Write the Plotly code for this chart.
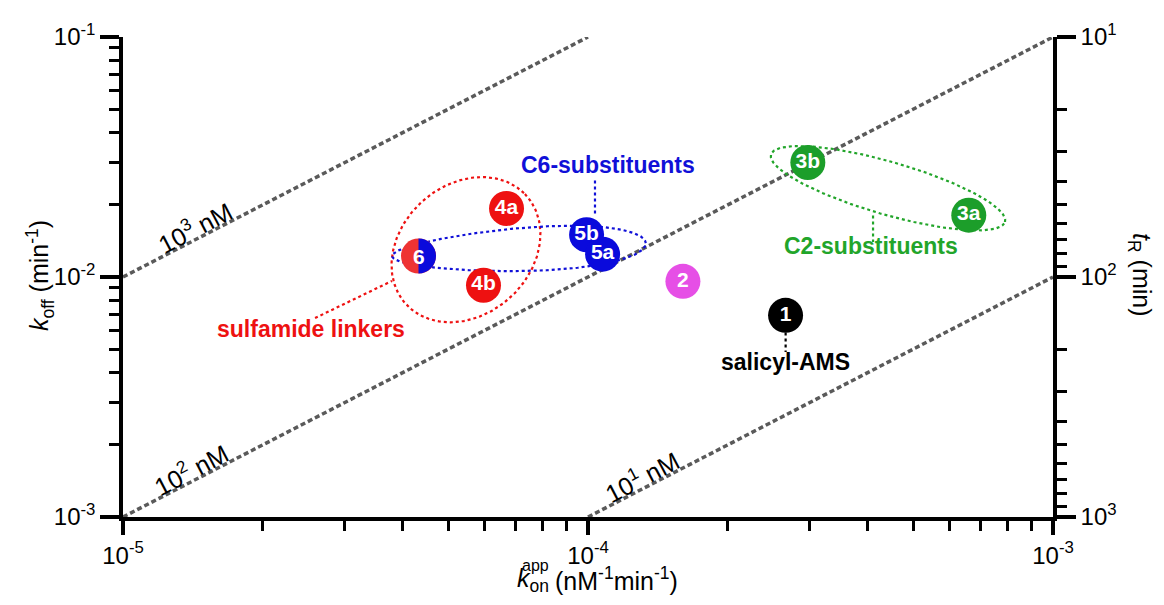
import math
import plotly.graph_objects as go

# ---------------- data ----------------
compounds = ["1", "2", "3a", "3b", "4a", "4b", "5b", "5a", "6"]
kon_app = [2.66e-4, 1.60e-4, 6.59e-4, 2.97e-4, 6.68e-5, 5.96e-5, 9.93e-5, 1.075e-4, 4.32e-5]   # nM^-1 min^-1
koff = [6.92e-3, 9.59e-3, 1.81e-2, 3.00e-2, 1.93e-2, 9.24e-3, 1.50e-2, 1.245e-2, 1.223e-2]      # min^-1
point_colors = ["#000000", "#E64FE6", "#1C9E2A", "#1C9E2A", "#EE1111", "#EE1111",
                "#0A0ADC", "#0A0ADC", "#EE3333"]
split_color_6 = "#0A0ADC"

kd_lines_nM = [1e3, 1e2, 1e1]
kd_labels = ["10<sup>3</sup> nM", "10<sup>2</sup> nM", "10<sup>1</sup> nM"]
kd_label_logx = [-4.835, -4.843, -3.873]

x_tickvals = [1e-5, 1e-4, 1e-3]
x_ticktext = ["10<sup>-5</sup>", "10<sup>-4</sup>", "10<sup>-3</sup>"]
y_tickvals = [1e-3, 1e-2, 1e-1]
y_ticktext = ["10<sup>-3</sup>", "10<sup>-2</sup>", "10<sup>-1</sup>"]
y2_tickvals = [10, 100, 1000]
y2_ticktext = ["10<sup>1</sup>", "10<sup>2</sup>", "10<sup>3</sup>"]

# group annotations (log10 coordinates); ellipse semi-axes in pixels, angle in degrees
groups = [
    dict(name="sulfamide linkers", color="#EE1111", center=(-4.2624, -1.8862), a=82, b=66, angle=45, taper=0.0,
         label=(-4.596, -2.232), conn=((-4.587, -2.171), (-4.4215, -2.0163))),
    dict(name="C6-substituents", color="#1010D8", center=(-4.1484, -1.8862), a=127, b=22, angle=3, taper=0.22,
         label=(-3.957, -1.549), conn=((-3.985, -1.5976), (-3.985, -1.7398))),
    dict(name="C2-substituents", color="#22A52A", center=(-3.3548, -1.6301), a=122, b=27, angle=-16.5, taper=0.0,
         label=(-3.391, -1.886), conn=((-3.387, -1.7439), (-3.387, -1.8537))),
]
ams_label = dict(name="salicyl-AMS", color="#000000", label=(-3.575, -2.370),
                 conn=((-3.575, -2.2317), (-3.575, -2.313)))

# ---------------- layout geometry ----------------
BODY = 8                      # default page margin of the html body
W, H = 1164 - 2 * BODY, 605 - 2 * BODY
ML, MT = 123 - BODY, 25 - BODY
PW, PH = 930, 492
MR, MB = W - ML - PW, H - MT - PH
XR, YR, Y2R = [-5, -3], [-3, -1], [3, 1]
PX_PER_DEC_X = PW / (XR[1] - XR[0])
PX_PER_DEC_Y = PH / (YR[1] - YR[0])
FONT = "Liberation Sans, Arial, sans-serif"


def px_to_paper(px, py):
    """absolute screenshot pixel -> paper fraction"""
    return (px - 123) / PW, (517 - py) / PH


fig = go.Figure()

# K_D iso-affinity lines
for kd in kd_lines_nM:
    x0 = max(10 ** XR[0], 10 ** YR[0] / kd)
    x1 = min(10 ** XR[1], 10 ** YR[1] / kd)
    fig.add_trace(go.Scatter(x=[x0, x1], y=[x0 * kd, x1 * kd], mode="lines",
                             line=dict(color="#5A5A5A", width=3.5, dash="5px,3px"),
                             hoverinfo="skip", showlegend=False))

ang = math.degrees(math.atan(PX_PER_DEC_Y / PX_PER_DEC_X))
d = 12
for kd, lab, lx in zip(kd_lines_nM, kd_labels, kd_label_logx):
    fig.add_annotation(x=lx, y=lx + math.log10(kd), text=lab, showarrow=False, textangle=-ang,
                       xanchor="center", yanchor="middle",
                       xshift=-math.sin(math.radians(ang)) * d, yshift=math.cos(math.radians(ang)) * d,
                       font=dict(family=FONT, size=25, color="black"))

# group ellipses
for g in groups:
    cx, cy = g["center"]
    th = math.radians(g["angle"])
    xs, ys = [], []
    n = 240
    for i in range(n + 1):
        t = 2 * math.pi * i / n
        u = math.cos(t)
        lx = g["a"] * u
        ly = g["b"] * math.sin(t) * (1 + g["taper"] * u)
        dx = lx * math.cos(th) - ly * math.sin(th)
        dy = lx * math.sin(th) + ly * math.cos(th)
        xs.append(10 ** (cx + dx / PX_PER_DEC_X))
        ys.append(10 ** (cy + dy / PX_PER_DEC_Y))
    fig.add_trace(go.Scatter(x=xs, y=ys, mode="lines", line=dict(color=g["color"], width=2.2, dash="dot"),
                             hoverinfo="skip", showlegend=False))

for g in groups + [ams_label]:
    (ax0, ay0), (ax1, ay1) = g["conn"]
    fig.add_trace(go.Scatter(x=[10 ** ax0, 10 ** ax1], y=[10 ** ay0, 10 ** ay1], mode="lines",
                             line=dict(color=g["color"], width=2.2, dash="dot"),
                             hoverinfo="skip", showlegend=False))
    fig.add_annotation(x=g["label"][0], y=g["label"][1], text="<b>%s</b>" % g["name"], showarrow=False,
                       xanchor="center", yanchor="middle", yshift=4,
                       font=dict(family=FONT, size=23, color=g["color"]))

# compound points
texts = ["<b>%s</b>" % c if c != "6" else "" for c in compounds]
fig.add_trace(go.Scatter(x=kon_app, y=koff, mode="markers+text", text=texts,
                         textposition="middle center",
                         textfont=dict(family=FONT, size=21, color="white"),
                         marker=dict(size=35, color=point_colors, line=dict(width=0)),
                         hoverinfo="skip", showlegend=False))

# compound 6 belongs to both groups: right half blue
r = 17.5
c = 0.5523 * r
half_path = (f"M 0,{-r} C {c},{-r} {r},{-c} {r},0 C {r},{c} {c},{r} 0,{r} Z")
i6 = compounds.index("6")
fig.add_shape(type="path", xref="x", yref="y", xsizemode="pixel", ysizemode="pixel",
              xanchor=kon_app[i6], yanchor=koff[i6], path=half_path,
              fillcolor=split_color_6, line=dict(width=0), layer="above")
fig.add_annotation(x=math.log10(kon_app[i6]), y=math.log10(koff[i6]), text="<b>6</b>", showarrow=False,
                   xanchor="center", yanchor="middle",
                   font=dict(family=FONT, size=21, color="white"))

# dummy trace for the right axis
fig.add_trace(go.Scatter(x=[None], y=[None], yaxis="y2", showlegend=False, hoverinfo="skip"))

# axis titles
TF = dict(family=FONT, size=25, color="black")
px, py = px_to_paper(40, 270)
fig.add_annotation(xref="paper", yref="paper", x=px, y=py, xanchor="center", yanchor="middle",
                   text="<i>k</i><sub>off</sub> (min<sup>-1</sup>)", textangle=-90, showarrow=False, font=TF)
px, py = px_to_paper(551, 582)
fig.add_annotation(xref="paper", yref="paper", x=px, y=py, xanchor="right", yanchor="middle",
                   text="<i>k</i><sub>on</sub>", showarrow=False, font=TF)
px, py = px_to_paper(551, 567)
fig.add_annotation(xref="paper", yref="paper", x=px, y=py, xanchor="right", yanchor="middle",
                   text="app", showarrow=False, font=dict(family=FONT, size=16, color="black"))
px, py = px_to_paper(553, 581)
fig.add_annotation(xref="paper", yref="paper", x=px, y=py, xanchor="left", yanchor="middle",
                   text="(nM<sup>-1</sup>min<sup>-1</sup>)", showarrow=False, font=TF)
px, py = px_to_paper(1140, 268)
fig.add_annotation(xref="paper", yref="paper", x=px, y=py, xanchor="center", yanchor="middle",
                   text="<i>t</i><sub>R</sub> (min)", textangle=90, showarrow=False, font=TF)


def minor_vals(decades):
    return [m * 10 ** e for e in decades for m in range(2, 10)]


axis_common = dict(type="log", showgrid=False, zeroline=False, showline=True, linecolor="black",
                   linewidth=3.5, ticks="outside", tickcolor="black", tickwidth=3.5,
                   tickmode="array", ticklabeloverflow="allow",
                   tickfont=dict(family=FONT, size=24, color="black"))

fig.update_layout(
    width=W, height=H, margin=dict(l=ML, r=MR, t=MT, b=MB),
    paper_bgcolor="white", plot_bgcolor="white", showlegend=False,
    font=dict(family=FONT),
    xaxis=dict(axis_common, range=XR, tickvals=x_tickvals, ticktext=x_ticktext, ticklen=14,
               minor=dict(tickmode="array", tickvals=minor_vals([-5, -4]), ticks="outside",
                          ticklen=10, tickwidth=3, tickcolor="black", showgrid=False)),
    yaxis=dict(axis_common, range=YR, tickvals=y_tickvals, ticktext=y_ticktext, ticklen=19,
               minor=dict(tickmode="array", tickvals=minor_vals([-3, -2]), ticks="outside",
                          ticklen=10, tickwidth=3, tickcolor="black", showgrid=False)),
    yaxis2=dict(axis_common, range=Y2R, tickvals=y2_tickvals, ticktext=y2_ticktext, ticklen=19,
                overlaying="y", side="right", anchor="x",
                minor=dict(tickmode="array", tickvals=minor_vals([1, 2]), ticks="outside",
                           ticklen=10, tickwidth=3, tickcolor="black", showgrid=False)),
)

fig.write_html("out.html")
